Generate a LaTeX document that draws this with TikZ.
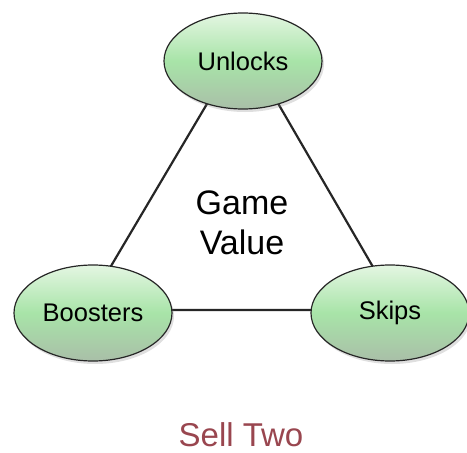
\documentclass[tikz,border=0pt]{standalone}
\usepackage{fontspec}
\setmainfont{Liberation Sans}
\usetikzlibrary{shapes.geometric,shadows}
\pgfdeclarelayer{bg}
\pgfsetlayers{bg,main}
\definecolor{leafmid}{HTML}{A8E4A8}
\definecolor{leaftop}{HTML}{E4F6E2}
\definecolor{leafbot}{HTML}{A9BFA8}
\definecolor{caption}{HTML}{99464F}
\tikzset{
  bubble/.style={ellipse, draw=black!85, line width=1.2pt,
    minimum width=158pt, minimum height=96pt, inner sep=0pt,
    top color=leaftop, bottom color=leafbot, middle color=leafmid,
    drop shadow={opacity=0.25, shadow xshift=2pt, shadow yshift=-3pt},
    font=\fontsize{25.5}{30}\selectfont},
  edge/.style={draw=black!85, line width=2.2pt, line join=round},
  centre/.style={align=center, font=\fontsize{34}{40}\selectfont},
  captiontext/.style={text=caption, inner sep=1pt, font=\fontsize{33}{38}\selectfont}
}
\begin{document}
\begin{tikzpicture}[x=1pt,y=1pt]
  \useasboundingbox (0,0) rectangle (467,-453);
  \node[bubble] (u) at (243,-61) {Unlocks};
  \node[bubble] (b) at (93,-313) {Boosters};
  \node[bubble] (s) at (390,-313) {Skips};
  \coordinate (ta) at ([yshift=18pt]u.center);
  \coordinate (tb) at ([xshift=-8pt,yshift=3pt]b.center);
  \coordinate (tc) at ([xshift=8pt,yshift=3pt]s.center);
  \begin{pgfonlayer}{bg}
    \path[edge, fill=white] (ta) -- (tb) -- (tc) -- cycle;
  \end{pgfonlayer}
  \node[centre] (gv) at (242,-223) {Game\\Value};
  \node[captiontext] (cap) at (241,-435) {Sell Two};
\end{tikzpicture}
\end{document}
